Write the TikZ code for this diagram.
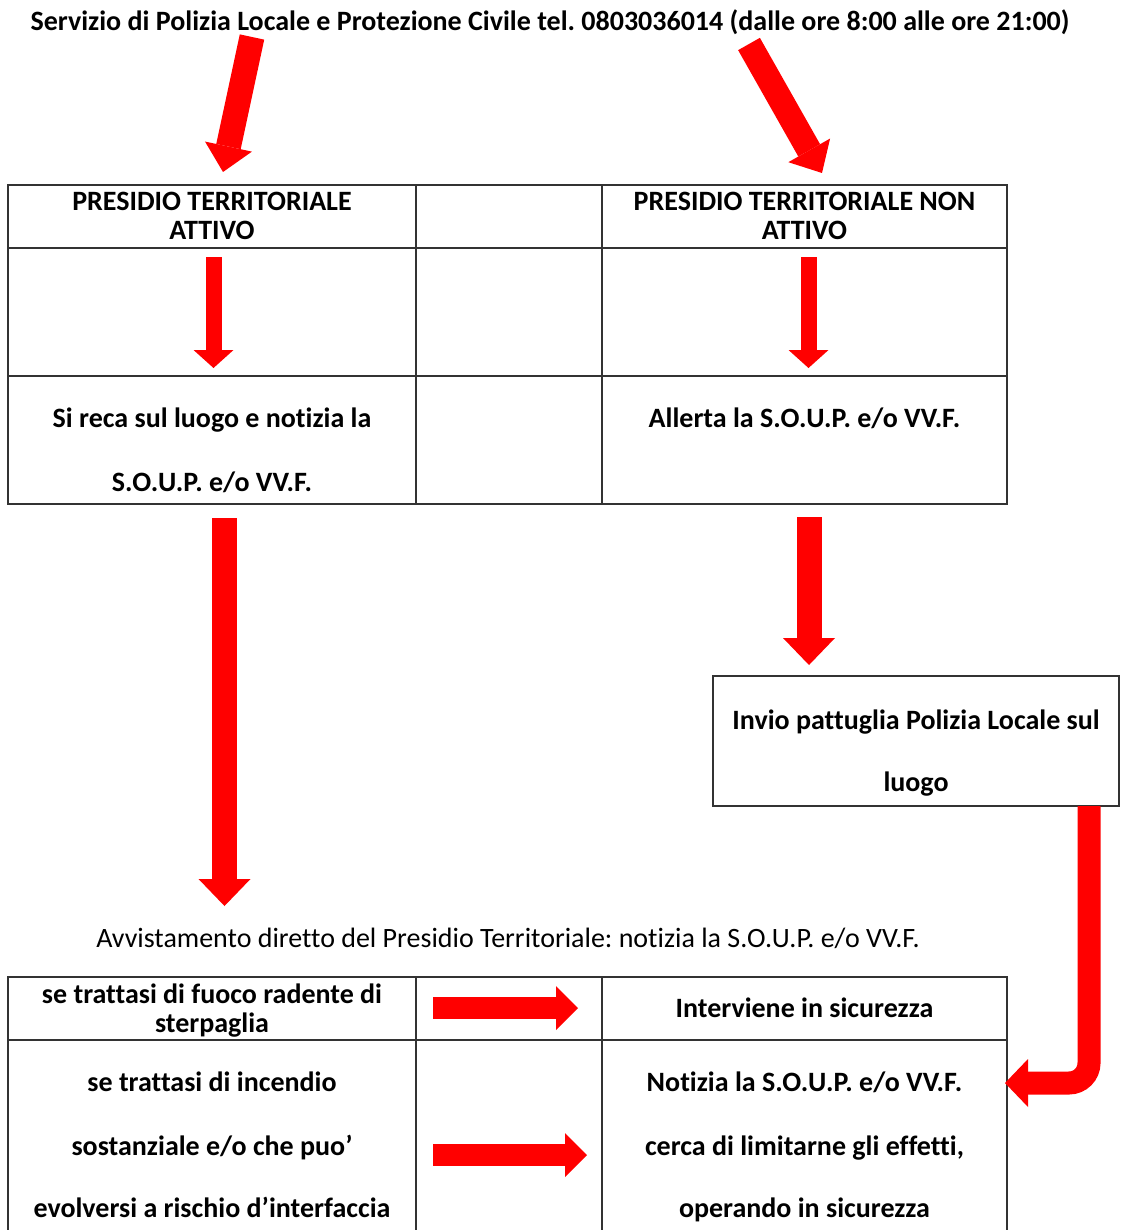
\documentclass[tikz,border=0pt]{standalone}
\usepackage{fontspec}
\setmainfont{Carlito}[Ligatures=NoCommon]
\frenchspacing
\usetikzlibrary{arrows.meta}
\definecolor{arrred}{RGB}{255,0,0}
\tikzset{
  grid/.style={line width=1pt, draw=black!80},
  txt/.style={anchor=base, inner sep=0pt, font=\fontsize{14}{16}\selectfont},
  btxt/.style={txt, font=\fontsize{14}{16}\selectfont\bfseries},
  boxed/.style={draw=black!80, line width=0.9pt},
  arrbig/.style={draw=arrred, line width=12.5pt, -{Triangle[length=13.5pt, width=26pt, line width=0pt]}},
  arrtop/.style={draw=arrred, line width=12.5pt, -{Triangle[length=13pt, width=24pt, line width=0pt]}},
  arrsmall/.style={draw=arrred, line width=8pt, -{Triangle[length=9pt, width=20pt, line width=0pt]}},
  arrside/.style={draw=arrred, line width=11pt, -{Triangle[length=11pt, width=22pt, line width=0pt]}},
  arrbent/.style={draw=arrred, line width=11.5pt, rounded corners=10pt, -{Triangle[length=11.5pt, width=24pt, line width=0pt]}},
}
\begin{document}
\begin{tikzpicture}[x=0.5pt, y=-0.5pt]
\useasboundingbox (0,0) rectangle (1121,1230);
% title
\node[btxt] (title) at (550,31) {Servizio di Polizia Locale e Protezione Civile tel. 0803036014 (dalle ore 8:00 alle ore 21:00)};
% top table
\draw[grid] (8,185) rectangle (1007,504);
\draw[grid] (8,248) -- (1007,248);
\draw[grid] (8,376) -- (1007,376);
\draw[grid] (416,185) -- (416,504);
\draw[grid] (602,185) -- (602,504);
\node[btxt] (h1a) at (212,211) {PRESIDIO TERRITORIALE};
\node[btxt] (h1b) at (212,240) {ATTIVO};
\node[btxt] (h2a) at (804.5,211) {PRESIDIO TERRITORIALE NON};
\node[btxt] (h2b) at (804.5,240) {ATTIVO};
\node[btxt] (c1a) at (212,427) {Si reca sul luogo e notizia la};
\node[btxt] (c1b) at (212,491) {S.O.U.P. e/o VV.F.};
\node[btxt] (c2a) at (804.5,427) {Allerta la S.O.U.P. e/o VV.F.};
% box
\node[boxed, minimum width=203pt, minimum height=65pt, inner sep=0pt] (box) at (916,741) {};
\node[btxt] (b1) at (916,729) {Invio pattuglia Polizia Locale sul};
\node[btxt] (b2) at (916,791) {luogo};
% middle text
\node[txt] (avv) at (508,947) {Avvistamento diretto del Presidio Territoriale: notizia la S.O.U.P. e/o VV.F.};
% bottom table
\draw[grid] (8,1230) -- (8,977) -- (1007,977) -- (1007,1230);
\draw[grid] (8,1040) -- (1007,1040);
\draw[grid] (416,977) -- (416,1230);
\draw[grid] (602,977) -- (602,1230);
\node[btxt] (r1a) at (212,1003) {se trattasi di fuoco radente di};
\node[btxt] (r1b) at (212,1032) {sterpaglia};
\node[btxt] (r1c) at (804.5,1017) {Interviene in sicurezza};
\node[btxt] (r2a) at (212,1091) {se trattasi di incendio};
\node[btxt] (r2b) at (212,1155) {sostanziale e/o che puo’};
\node[btxt] (r2c) at (212,1217) {evolversi a rischio d’interfaccia};
\node[btxt] (r2d) at (804.5,1091) {Notizia la S.O.U.P. e/o VV.F.};
\node[btxt] (r2e) at (804.5,1155) {cerca di limitarne gli effetti,};
\node[btxt] (r2f) at (804.5,1217) {operando in sicurezza};
% arrow coordinates
\coordinate (t1s) at (252,37);
\coordinate (t1e) at (223,172);
\coordinate (t2s) at (749,44);
\coordinate (t2e) at (822,173);
\coordinate (s1s) at (213.5,257);
\coordinate (s1e) at (213.5,368);
\coordinate (s2s) at (808.5,257);
\coordinate (s2e) at (808.5,368);
\coordinate (g1s) at (224.5,518);
\coordinate (g1e) at (224.5,906);
\coordinate (g2s) at (809,517);
\coordinate (g2e) at (809,665);
\coordinate (bs) at (1089,806);
\coordinate (be) at (1005,1083);
\coordinate (h1s) at (433,1008);
\coordinate (h1e) at (578,1008);
\coordinate (h2s) at (433,1155);
\coordinate (h2e) at (587,1155);
% arrows
\draw[arrtop] (t1s) -- (t1e);
\draw[arrtop] (t2s) -- (t2e);
\draw[arrsmall] (s1s) -- (s1e);
\draw[arrsmall] (s2s) -- (s2e);
\draw[arrbig] (g1s) -- (g1e);
\draw[arrbig] (g2s) -- (g2e);
\draw[arrbent] (bs) |- (be);
\draw[arrside] (h1s) -- (h1e);
\draw[arrside] (h2s) -- (h2e);
\end{tikzpicture}
\end{document}
